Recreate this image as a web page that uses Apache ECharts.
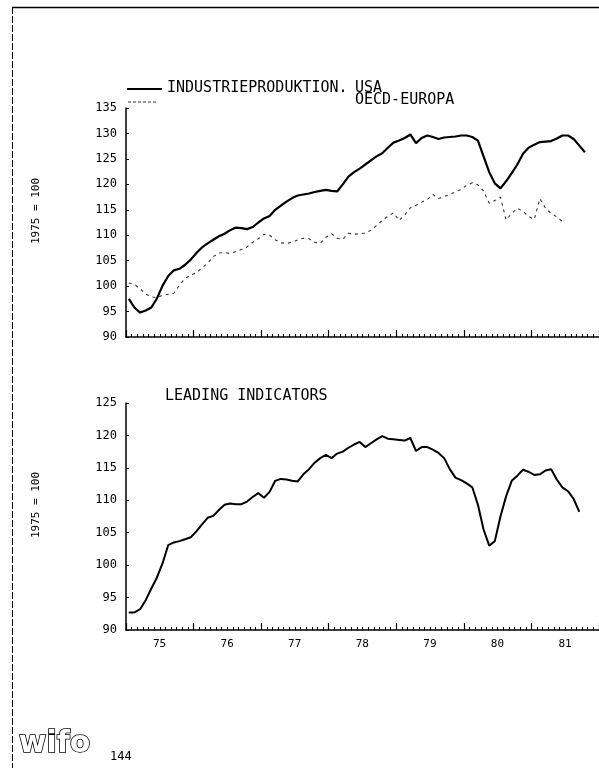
<!DOCTYPE html>
<html>
<head>
<meta charset="utf-8">
<script src="https://cdn.jsdelivr.net/npm/echarts@6/dist/echarts.min.js"></script>
<style>
html,body{margin:0;padding:0;background:#fff;}
#chart{width:599px;height:768px;}
</style>
</head>
<body>
<div id="chart"></div>
<script>
// ---- data ----
const years = ['75', '76', '77', '78', '79', '80', '81'];
const yTicksTop = [90, 135, 5];      // min, max, interval
const yTicksBottom = [90, 125, 5];

// Industrieproduktion USA (1975 = 100), monthly from Jan 1975
const usa = [97.5, 95.8, 94.8, 95.2, 95.8, 97.6, 100.1, 102.0, 103.1, 103.4, 104.2, 105.2,
  106.5, 107.6, 108.4, 109.1, 109.8, 110.3, 111.0, 111.5, 111.4, 111.2, 111.6, 112.5,
  113.3, 113.8, 115.0, 115.8, 116.6, 117.3, 117.8, 118.0, 118.2, 118.5, 118.7, 118.9,
  118.7, 118.6, 120.0, 121.5, 122.4, 123.1, 123.9, 124.7, 125.5, 126.1, 127.2, 128.2,
  128.6, 129.1, 129.8, 128.1, 129.1, 129.6, 129.3, 128.9, 129.2, 129.3, 129.4, 129.6,
  129.6, 129.3, 128.6, 125.5, 122.4, 120.2, 119.2, 120.6, 122.2, 123.9, 126.0, 127.2,
  127.8, 128.3, 128.4, 128.5, 129.0, 129.6, 129.6, 128.9, 127.6, 126.3, null, null];

// Industrieproduktion OECD-Europa
const oecd = [100.6, 100.3, 99.5, 98.4, 97.9, 97.7, 98.2, 98.4, 98.6, 100.2, 101.5, 102.2,
  102.6, 103.6, 104.5, 105.8, 106.5, 106.6, 106.4, 106.8, 107.2, 107.7, 108.6, 109.3,
  110.2, 110.0, 109.1, 108.5, 108.4, 108.6, 109.1, 109.4, 109.3, 108.6, 108.4, 109.6,
  110.3, 109.4, 109.2, 110.4, 110.2, 110.3, 110.4, 111.0, 111.9, 112.9, 113.7, 114.4,
  112.9, 114.0, 115.4, 115.9, 116.5, 117.0, 118.0, 117.2, 117.6, 118.0, 118.5, 119.0,
  119.8, 120.3, 119.9, 118.7, 116.3, 116.8, 117.5, 113.0, 114.3, 115.3, 114.7, 113.7,
  113.1, 117.2, 115.3, 114.3, 113.6, 112.7, null, null, null, null, null, null];

// Leading indicators
const leading = [92.7, 92.7, 93.2, 94.6, 96.4, 98.1, 100.3, 103.1, 103.5, 103.7, 104.0, 104.3,
  105.2, 106.3, 107.3, 107.6, 108.5, 109.3, 109.5, 109.4, 109.4, 109.8, 110.5, 111.1,
  110.4, 111.3, 113.0, 113.3, 113.2, 113.0, 112.9, 114.0, 114.8, 115.8, 116.5, 117.0,
  116.5, 117.2, 117.5, 118.1, 118.6, 119.0, 118.2, 118.8, 119.4, 119.9, 119.5, 119.4,
  119.3, 119.2, 119.6, 117.6, 118.2, 118.2, 117.8, 117.3, 116.5, 114.8, 113.5, 113.1,
  112.6, 112.0, 109.3, 105.5, 103.0, 103.7, 107.5, 110.6, 113.0, 113.8, 114.7, 114.4,
  113.9, 114.0, 114.6, 114.8, 113.2, 112.0, 111.4, 110.2, 108.2, null, null, null];

// ---- build ----
const months = [];
years.forEach(y => { for (let m = 1; m <= 12; m++) months.push('19' + y + '-' + (m < 10 ? '0' + m : m)); });

const MONO = '"DejaVu Sans Mono", monospace';
const black = '#000';

function yAxis(gi, t) {
  return {
    type: 'value', gridIndex: gi, min: t[0], max: t[1], interval: t[2],
    axisLine: { show: true, lineStyle: { color: black, width: 1.5 } },
    axisTick: { show: true, inside: true, length: 3, lineStyle: { color: black, width: 1 } },
    axisLabel: { color: black, fontFamily: MONO, fontSize: 12, margin: 9 },
    splitLine: { show: false }
  };
}
function xMinor(gi) {
  return {
    type: 'category', gridIndex: gi, data: months, position: 'bottom', boundaryGap: true,
    axisLine: { show: true, lineStyle: { color: black, width: 1.5 } },
    axisTick: { show: true, inside: true, interval: 0, length: 3, lineStyle: { color: black, width: 1 } },
    axisLabel: { show: false }, splitLine: { show: false }
  };
}
function xMajor(gi, labels) {
  return {
    type: 'category', gridIndex: gi, data: months, position: 'bottom', boundaryGap: true,
    axisLine: { show: false },
    axisTick: { show: true, inside: true, interval: (i) => i % 12 === 0, length: 7, lineStyle: { color: black, width: 1.2 } },
    axisLabel: {
      show: labels, interval: (i) => i % 12 === 6, formatter: (v) => v.slice(2, 4),
      color: black, fontFamily: MONO, fontSize: 11, margin: 9, padding: [0, 6, 0, 0]
    },
    splitLine: { show: false }
  };
}

const chart = echarts.init(document.getElementById('chart'), null, { renderer: 'canvas' });
chart.setOption({
  animation: false,
  backgroundColor: '#fff',
  grid: [
    { left: 126, top: 108, width: 481, height: 229 },
    { left: 126, top: 403, width: 481, height: 227 }
  ],
  xAxis: [xMinor(0), xMajor(0, false), xMinor(1), xMajor(1, true)],
  yAxis: [yAxis(0, yTicksTop), yAxis(1, yTicksBottom)],
  series: [
    { name: 'INDUSTRIEPRODUKTION. USA', type: 'line', xAxisIndex: 0, yAxisIndex: 0, data: usa,
      showSymbol: false, lineStyle: { color: black, width: 2.2 }, z: 3 },
    { name: 'OECD-EUROPA', type: 'line', xAxisIndex: 0, yAxisIndex: 0, data: oecd,
      showSymbol: false, lineStyle: { color: '#333', width: 1.1, type: [3, 4] }, z: 2 },
    { name: 'LEADING INDICATORS', type: 'line', xAxisIndex: 2, yAxisIndex: 1, data: leading,
      showSymbol: false, lineStyle: { color: black, width: 2 }, z: 3 }
  ],
  graphic: [
    // frame
    { type: 'line', shape: { x1: 12, y1: 7.5, x2: 599, y2: 7.5 }, style: { stroke: black, lineWidth: 1.5 } },
    { type: 'line', shape: { x1: 12.5, y1: 7, x2: 12.5, y2: 768 }, style: { stroke: black, lineWidth: 1, lineDash: [7, 2] } },
    // legend
    { type: 'line', shape: { x1: 127, y1: 89, x2: 162, y2: 89 }, style: { stroke: black, lineWidth: 2 } },
    { type: 'line', shape: { x1: 128, y1: 102, x2: 158, y2: 102 }, style: { stroke: '#333', lineWidth: 1, lineDash: [3, 2] } },
    { type: 'text', left: 167, top: 81, style: { text: 'INDUSTRIEPRODUKTION.', font: '15px ' + MONO, fill: black } },
    { type: 'text', left: 355, top: 81, style: { text: 'USA', font: '15px ' + MONO, fill: black } },
    { type: 'text', left: 355, top: 93, style: { text: 'OECD-EUROPA', font: '15px ' + MONO, fill: black } },
    // bottom title
    { type: 'text', left: 165, top: 389, style: { text: 'LEADING INDICATORS', font: '15px ' + MONO, fill: black } },
    // y-axis names
    { type: 'text', x: 36, y: 211, rotation: Math.PI / 2, style: { text: '1975 = 100', font: '11px ' + MONO, fill: black, align: 'center', verticalAlign: 'middle' } },
    { type: 'text', x: 36, y: 505, rotation: Math.PI / 2, style: { text: '1975 = 100', font: '11px ' + MONO, fill: black, align: 'center', verticalAlign: 'middle' } },
    // logo and page number
    { type: 'text', left: 18, top: 728, style: { text: 'wifo', font: 'bold 30px "DejaVu Sans"', fill: '#fff', stroke: black, lineWidth: 1.6 } },
    { type: 'text', left: 110, top: 751, style: { text: '144', font: '12px ' + MONO, fill: black } }
  ]
});
</script>
</body>
</html>
